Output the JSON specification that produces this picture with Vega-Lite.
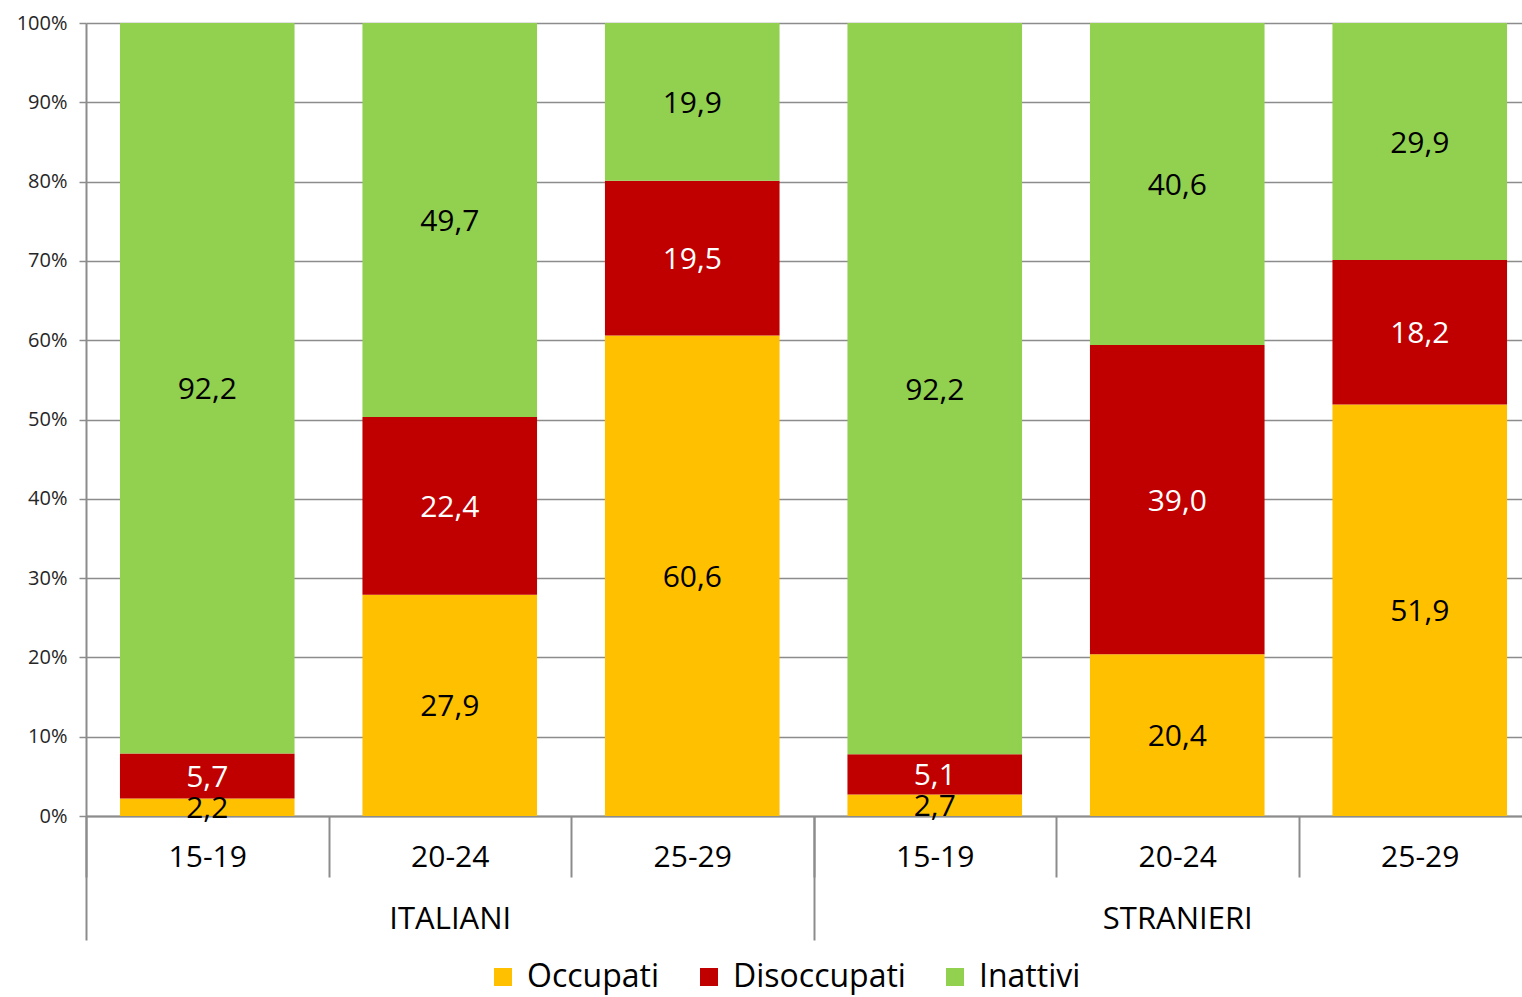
{
  "$schema": "https://vega.github.io/schema/vega-lite/v6.json",
  "width": 1434,
  "height": 793,
  "autosize": {"type": "none"},
  "padding": {"left": 86, "top": 23, "right": 2, "bottom": 181},
  "config": {
    "locale": {"number": {"decimal": ",", "thousands": ".", "grouping": [3], "currency": ["", " €"]}},
    "font": "Open Sans",
    "view": {"stroke": null},
    "axis": {"labelFont": "Open Sans", "titleFont": "Open Sans"},
    "legend": {"labelFont": "Open Sans"}
  },
  "data": {
    "values": [
      {"group": "ITALIANI", "age": "15-19", "key": "ITALIANI|15-19", "cat": "Occupati", "ord": 1, "value": 2.2},
      {"group": "ITALIANI", "age": "15-19", "key": "ITALIANI|15-19", "cat": "Disoccupati", "ord": 2, "value": 5.7},
      {"group": "ITALIANI", "age": "15-19", "key": "ITALIANI|15-19", "cat": "Inattivi", "ord": 3, "value": 92.2},
      {"group": "ITALIANI", "age": "20-24", "key": "ITALIANI|20-24", "cat": "Occupati", "ord": 1, "value": 27.9},
      {"group": "ITALIANI", "age": "20-24", "key": "ITALIANI|20-24", "cat": "Disoccupati", "ord": 2, "value": 22.4},
      {"group": "ITALIANI", "age": "20-24", "key": "ITALIANI|20-24", "cat": "Inattivi", "ord": 3, "value": 49.7},
      {"group": "ITALIANI", "age": "25-29", "key": "ITALIANI|25-29", "cat": "Occupati", "ord": 1, "value": 60.6},
      {"group": "ITALIANI", "age": "25-29", "key": "ITALIANI|25-29", "cat": "Disoccupati", "ord": 2, "value": 19.5},
      {"group": "ITALIANI", "age": "25-29", "key": "ITALIANI|25-29", "cat": "Inattivi", "ord": 3, "value": 19.9},
      {"group": "STRANIERI", "age": "15-19", "key": "STRANIERI|15-19", "cat": "Occupati", "ord": 1, "value": 2.7},
      {"group": "STRANIERI", "age": "15-19", "key": "STRANIERI|15-19", "cat": "Disoccupati", "ord": 2, "value": 5.1},
      {"group": "STRANIERI", "age": "15-19", "key": "STRANIERI|15-19", "cat": "Inattivi", "ord": 3, "value": 92.2},
      {"group": "STRANIERI", "age": "20-24", "key": "STRANIERI|20-24", "cat": "Occupati", "ord": 1, "value": 20.4},
      {"group": "STRANIERI", "age": "20-24", "key": "STRANIERI|20-24", "cat": "Disoccupati", "ord": 2, "value": 39.0},
      {"group": "STRANIERI", "age": "20-24", "key": "STRANIERI|20-24", "cat": "Inattivi", "ord": 3, "value": 40.6},
      {"group": "STRANIERI", "age": "25-29", "key": "STRANIERI|25-29", "cat": "Occupati", "ord": 1, "value": 51.9},
      {"group": "STRANIERI", "age": "25-29", "key": "STRANIERI|25-29", "cat": "Disoccupati", "ord": 2, "value": 18.2},
      {"group": "STRANIERI", "age": "25-29", "key": "STRANIERI|25-29", "cat": "Inattivi", "ord": 3, "value": 29.9}
    ]
  },
  "layer": [
    {
      "mark": {"type": "bar"},
      "encoding": {
        "x": {
          "field": "group", "type": "nominal",
          "scale": {"range": [0, 1455], "paddingInner": 0, "paddingOuter": 0},
          "axis": {
            "orient": "bottom", "title": null, "domain": false, "grid": false,
            "tickBand": "extent", "tickSize": 124, "tickColor": "#8c8c8c", "tickWidth": 2,
            "labelFontSize": 31, "labelColor": "#000000", "labelBaseline": "middle", "labelPadding": -21, "labelAngle": 0
          }
        },
        "xOffset": {"field": "age", "type": "nominal", "scale": {"paddingInner": 0.28, "paddingOuter": 0.14}},
        "y": {
          "field": "value", "type": "quantitative", "stack": "normalize",
          "scale": {"domain": [0, 1]},
          "axis": {
            "title": null, "format": ".0%", "values": [0, 0.1, 0.2, 0.3, 0.4, 0.5, 0.6, 0.7, 0.8, 0.9, 1],
            "grid": true, "gridColor": "#8c8c8c", "gridWidth": 1.5,
            "domain": true, "domainColor": "#8c8c8c", "domainWidth": 2,
            "tickSize": 7, "tickColor": "#8c8c8c", "tickWidth": 1.5,
            "labelFontSize": 20, "labelColor": "#262626", "labelPadding": 12
          }
        },
        "color": {
          "field": "cat", "type": "nominal",
          "scale": {"domain": ["Occupati", "Disoccupati", "Inattivi"], "range": ["#FFC000", "#C00000", "#92D050"]},
          "legend": {
            "orient": "none", "legendX": 401, "legendY": 938, "direction": "horizontal", "title": null,
            "symbolType": "square", "symbolSize": 324, "symbolStrokeWidth": 0, "symbolOpacity": 1,
            "labelFontSize": 32, "labelColor": "#000000", "labelLimit": 0, "labelOffset": 8, "columnPadding": 33
          }
        },
        "order": {"field": "ord", "type": "quantitative"}
      }
    },
    {
      "mark": {"type": "text", "fontSize": 30, "font": "Open Sans", "dy": 2},
      "encoding": {
        "x": {
          "field": "key", "type": "nominal",
          "scale": {"range": [0, 1455], "paddingInner": 0, "paddingOuter": 0},
          "axis": {
            "orient": "bottom", "title": null, "grid": false,
            "domain": true, "domainColor": "#8c8c8c", "domainWidth": 2,
            "tickBand": "extent", "tickSize": 61, "tickColor": "#8c8c8c", "tickWidth": 2,
            "labelExpr": "split(datum.label, '|')[1]",
            "labelFontSize": 30, "labelColor": "#000000", "labelBaseline": "middle", "labelPadding": -20, "labelAngle": 0
          }
        },
        "y": {
          "field": "value", "type": "quantitative", "stack": "normalize", "bandPosition": 0.5,
          "axis": {
            "title": null, "format": ".0%", "values": [0, 0.1, 0.2, 0.3, 0.4, 0.5, 0.6, 0.7, 0.8, 0.9, 1],
            "grid": true, "gridColor": "#8c8c8c", "gridWidth": 1.5,
            "domain": true, "domainColor": "#8c8c8c", "domainWidth": 2,
            "tickSize": 7, "tickColor": "#8c8c8c", "tickWidth": 1.5,
            "labelFontSize": 20, "labelColor": "#262626", "labelPadding": 12
          }
        },
        "text": {"field": "value", "type": "quantitative", "format": ".1f"},
        "detail": {"field": "cat"},
        "order": {"field": "ord", "type": "quantitative"},
        "color": {"condition": {"test": "datum.cat === 'Disoccupati'", "value": "#ffffff"}, "value": "#000000"}
      }
    }
  ],
  "resolve": {"scale": {"x": "independent"}, "axis": {"x": "independent"}}
}
